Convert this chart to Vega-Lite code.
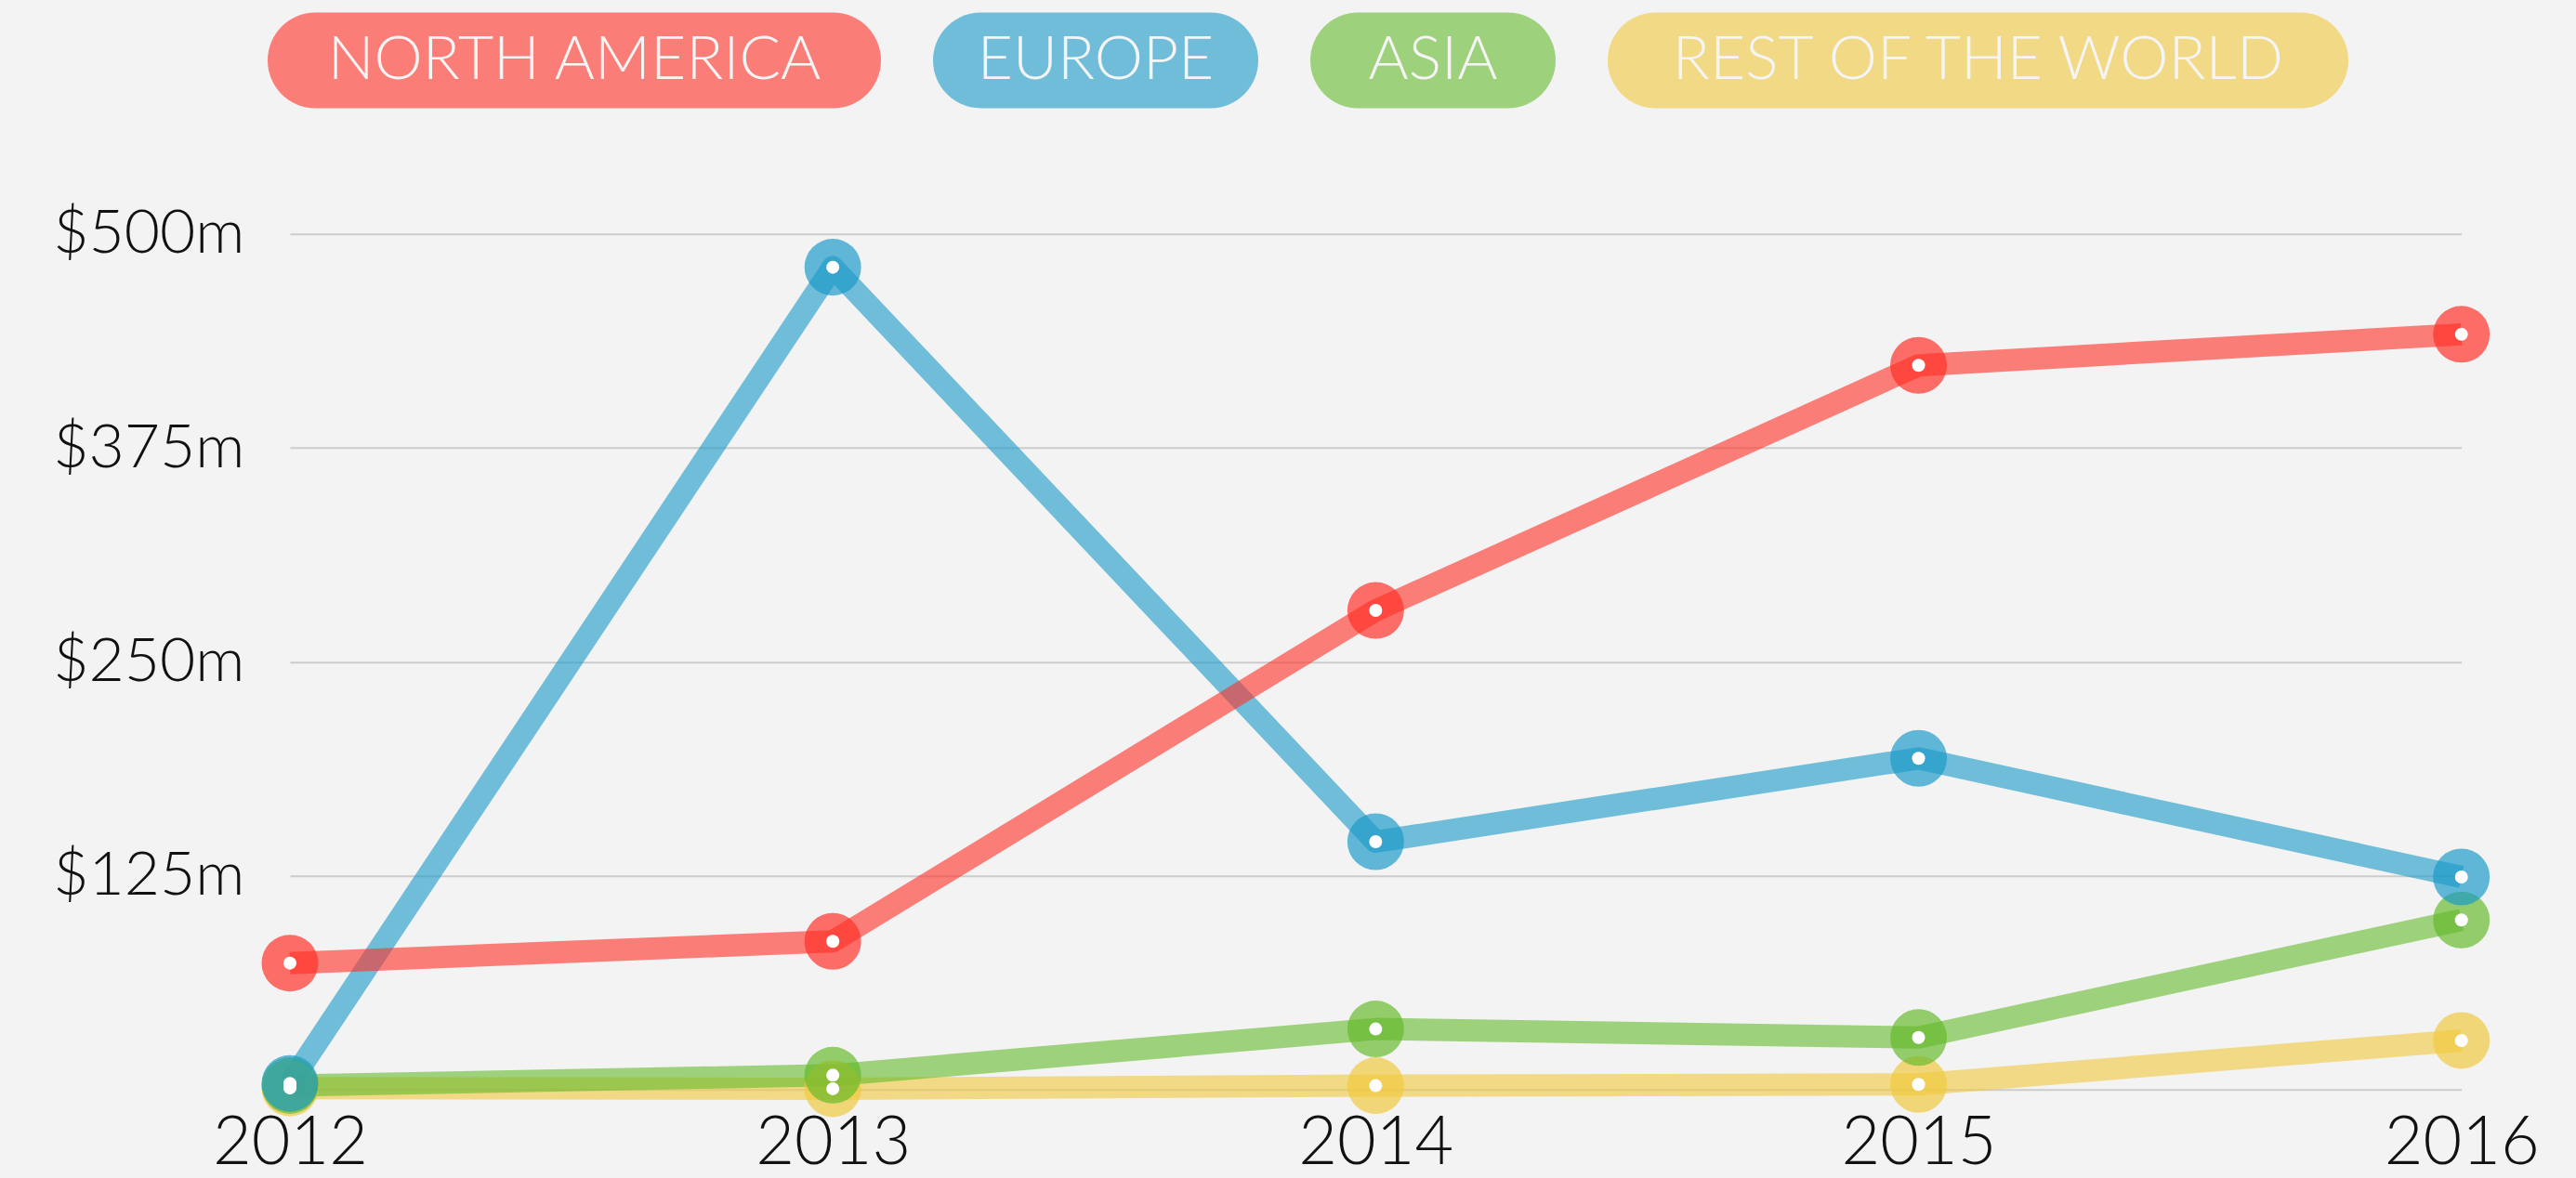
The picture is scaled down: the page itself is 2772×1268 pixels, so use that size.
{
  "$schema": "https://vega.github.io/schema/vega-lite/v6.json",
  "width": 2336.7,
  "height": 921.3,
  "autosize": {"type": "none"},
  "padding": {"left": 312, "top": 251.7, "right": 123.3, "bottom": 95},
  "background": "#f3f3f3",
  "config": {"view": {"stroke": null}, "font": "Lato"},
  "data": {
    "values": [
      {"series": "REST OF THE WORLD", "year": 2012, "value": 1},
      {"series": "REST OF THE WORLD", "year": 2013, "value": 0.6},
      {"series": "REST OF THE WORLD", "year": 2014, "value": 2.4},
      {"series": "REST OF THE WORLD", "year": 2015, "value": 3.1},
      {"series": "REST OF THE WORLD", "year": 2016, "value": 28.8},
      {"series": "ASIA", "year": 2012, "value": 2.5},
      {"series": "ASIA", "year": 2013, "value": 8.5},
      {"series": "ASIA", "year": 2014, "value": 35.5},
      {"series": "ASIA", "year": 2015, "value": 30.5},
      {"series": "ASIA", "year": 2016, "value": 99.2},
      {"series": "EUROPE", "year": 2012, "value": 3.7},
      {"series": "EUROPE", "year": 2013, "value": 480.5},
      {"series": "EUROPE", "year": 2014, "value": 144.9},
      {"series": "EUROPE", "year": 2015, "value": 193.6},
      {"series": "EUROPE", "year": 2016, "value": 124.3},
      {"series": "NORTH AMERICA", "year": 2012, "value": 74},
      {"series": "NORTH AMERICA", "year": 2013, "value": 86.7},
      {"series": "NORTH AMERICA", "year": 2014, "value": 280},
      {"series": "NORTH AMERICA", "year": 2015, "value": 423.2},
      {"series": "NORTH AMERICA", "year": 2016, "value": 441.3}
    ]
  },
  "encoding": {
    "x": {
      "field": "year",
      "type": "ordinal",
      "scale": {"type": "point", "padding": 0},
      "axis": {
        "title": null,
        "domain": false,
        "ticks": false,
        "grid": false,
        "labelAngle": 0,
        "labelFont": "Lato",
        "labelFontWeight": 300,
        "labelFontSize": 72,
        "labelColor": "#111111",
        "labelPadding": 22,
        "labelOverlap": false,
        "labelFlush": false,
        "labelLimit": 1000
      }
    },
    "y": {
      "field": "value",
      "type": "quantitative",
      "scale": {"domain": [0, 500], "nice": false, "zero": true},
      "axis": {
        "title": null,
        "domain": false,
        "ticks": false,
        "values": [0, 125, 250, 375, 500],
        "labelExpr": "datum.value == 0 ? '' : '$' + datum.value + 'm'",
        "labelFont": "Lato",
        "labelFontWeight": 300,
        "labelFontSize": 66,
        "labelColor": "#111111",
        "labelPadding": 49,
        "labelBaseline": "middle",
        "labelFlush": false,
        "labelOverlap": false,
        "labelLimit": 1000,
        "gridColor": "#cccccc",
        "gridWidth": 2
      }
    },
    "color": {
      "field": "series",
      "type": "nominal",
      "scale": {
        "domain": ["NORTH AMERICA", "EUROPE", "ASIA", "REST OF THE WORLD"],
        "range": ["#FF2E24", "#1999C9", "#64BA2B", "#F0C83C"]
      },
      "legend": {
        "title": null,
        "orient": "none",
        "legendX": -24,
        "legendY": -238.7,
        "direction": "horizontal",
        "padding": 0,
        "columnPadding": 56,
        "symbolOpacity": 0.6,
        "labelFont": "Lato",
        "labelFontWeight": 300,
        "labelFontSize": 66,
        "labelColor": "#f5f5f5",
        "labelLimit": 2000,
        "encoding": {
          "symbols": {
            "shape": {"value": {"expr": "datum.value === 'NORTH AMERICA' ? 'M-0.8439,-0.1561L0.8439,-0.1561A0.1561,0.1561,0,0,1,0.8439,0.1561L-0.8439,0.1561A0.1561,0.1561,0,0,1,-0.8439,-0.1561Z' : datum.value === 'EUROPE' ? 'M-0.7057,-0.2943L0.7057,-0.2943A0.2943,0.2943,0,0,1,0.7057,0.2943L-0.7057,0.2943A0.2943,0.2943,0,0,1,-0.7057,-0.2943Z' : datum.value === 'ASIA' ? 'M-0.6098,-0.3902L0.6098,-0.3902A0.3902,0.3902,0,0,1,0.6098,0.3902L-0.6098,0.3902A0.3902,0.3902,0,0,1,-0.6098,-0.3902Z' : 'M-0.8708,-0.1292L0.8708,-0.1292A0.1292,0.1292,0,0,1,0.8708,0.1292L-0.8708,0.1292A0.1292,0.1292,0,0,1,-0.8708,-0.1292Z'"}},
            "size": {"value": {"expr": "datum.value === 'NORTH AMERICA' ? 435600 : datum.value === 'EUROPE' ? 122500 : datum.value === 'ASIA' ? 69696 : 635209"}},
            "fill": {"value": {"expr": "scale('color', datum.value)"}},
            "fillOpacity": {"value": 1},
            "stroke": {"value": "transparent"},
            "strokeWidth": {"value": 0},
            "opacity": {"value": 0.6},
            "x": {"value": {"expr": "datum.value === 'NORTH AMERICA' ? 330 : datum.value === 'EUROPE' ? 175 : datum.value === 'ASIA' ? 132 : 398.5"}},
            "y": {"value": 51.5}
          },
          "labels": {
            "x": {"value": {"expr": "datum.value === 'NORTH AMERICA' ? 330 : datum.value === 'EUROPE' ? 175 : datum.value === 'ASIA' ? 132 : 398.5"}},
            "y": {"value": 51.5},
            "align": {"value": "center"}
          }
        }
      }
    }
  },
  "layer": [
    {
      "mark": {"type": "line", "strokeWidth": 24, "opacity": 0.6, "strokeJoin": "round"}
    },
    {
      "mark": {"type": "point", "shape": "circle", "filled": true, "size": 3721, "opacity": 0.68}
    },
    {
      "mark": {"type": "point", "shape": "circle", "filled": true, "size": 196, "opacity": 1},
      "encoding": {"color": {"value": "#ffffff"}}
    }
  ]
}
